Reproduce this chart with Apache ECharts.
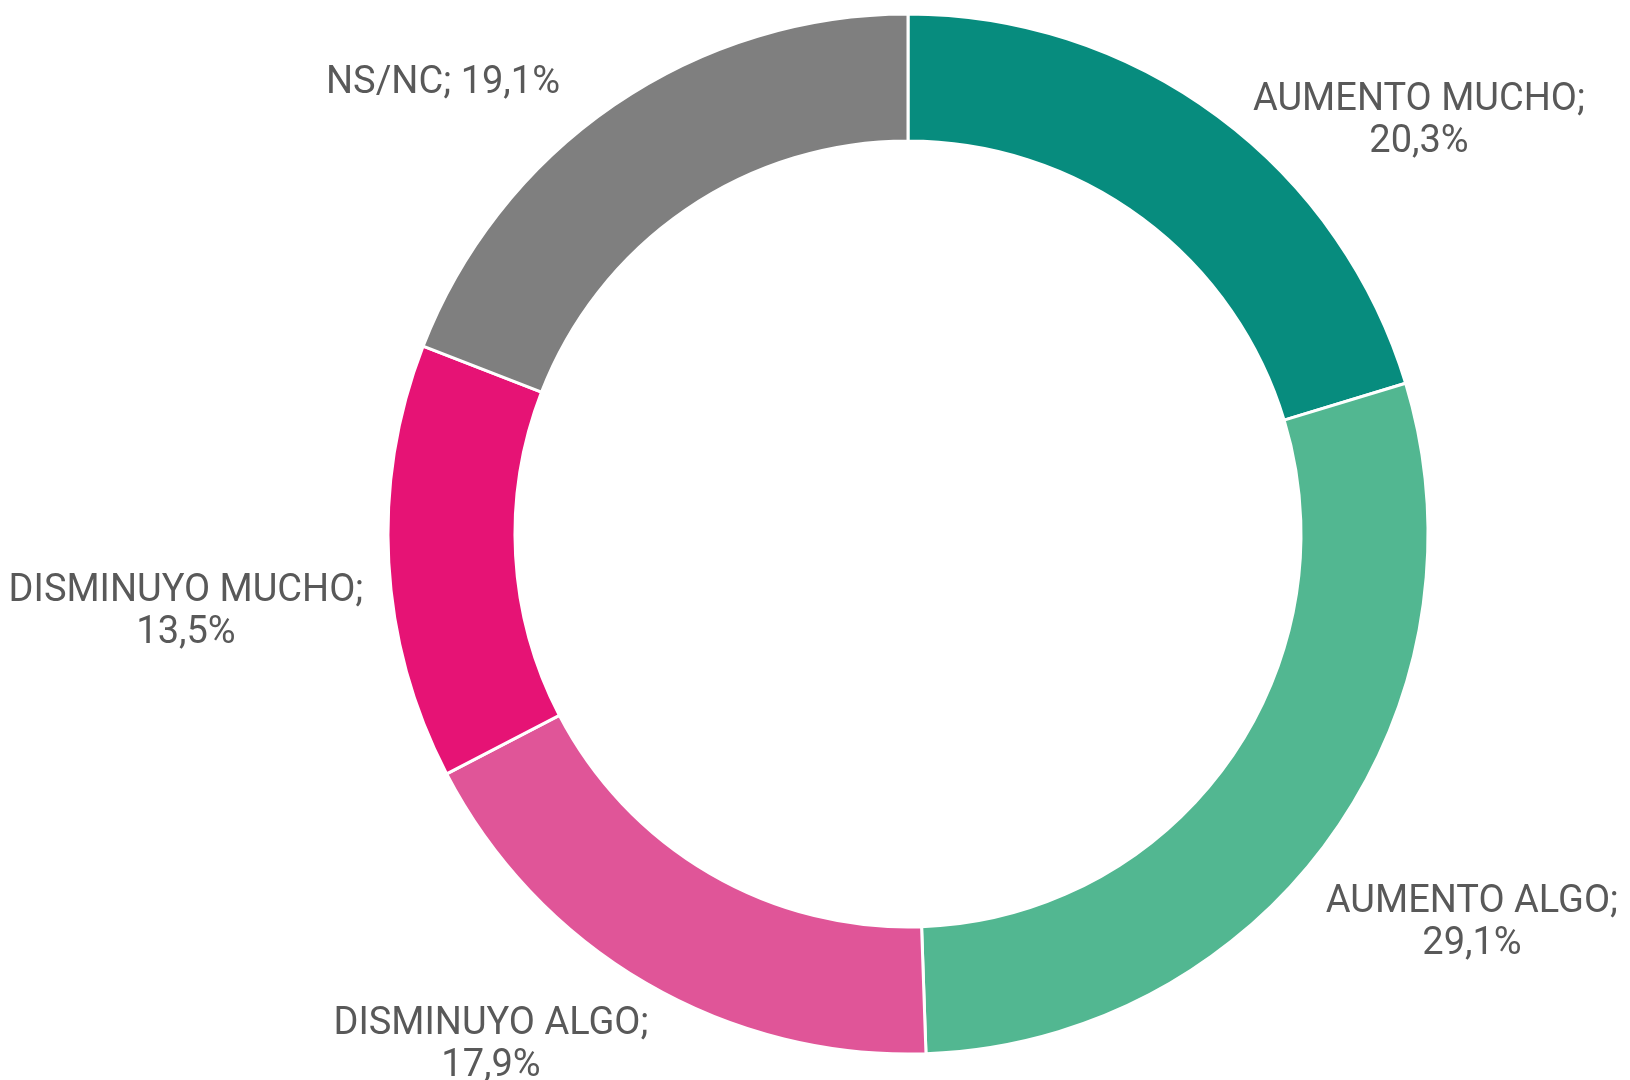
<!DOCTYPE html>
<html lang="es">
<head>
    <meta charset="UTF-8">
    <title>Donut</title>
    <script src="https://cdn.jsdelivr.net/npm/echarts@6/dist/echarts.min.js"></script>
    <style>
        html, body { margin: 0; padding: 0; background: #fff; }
        #main { width: 1630px; height: 1080px; }
    </style>
</head>
<body>
<div id="main"></div>
<script>
    // datos
    var categories = ['AUMENTO MUCHO', 'AUMENTO ALGO', 'DISMINUYO ALGO', 'DISMINUYO MUCHO', 'NS/NC'];
    var values = [20.3, 29.1, 17.9, 13.5, 19.1];
    var colors = ['#078c7e', '#52b791', '#e05598', '#e61375', '#7f7f7f'];

    // separador entre nombre y valor en cada etiqueta
    var labelSep = ['\n', '\n', '\n', '\n', ' '];
    // posicion del centro de cada etiqueta (px)
    var labelPos = [[1419, 121], [1472, 923], [491, 1045], [186, 612], [443, 83]];

    var myChart = echarts.init(document.getElementById('main'));

    var option = {
        animation: false,
        series: [{
            type: 'pie',
            center: [908, 534],
            radius: [393, 520],
            startAngle: 90,
            clockwise: true,
            itemStyle: {
                borderColor: '#ffffff',
                borderWidth: 3
            },
            label: {
                show: true,
                position: 'outside',
                color: '#595959',
                fontFamily: 'Roboto',
                fontSize: 38,
                lineHeight: 42,
                align: 'center',
                width: 420,
                overflow: 'none',
                formatter: function (p) {
                    return p.name + ';' + labelSep[p.dataIndex] + p.value.toFixed(1).replace('.', ',') + '%';
                }
            },
            labelLine: { show: false },
            labelLayout: function (p) {
                var pos = labelPos[p.dataIndex];
                return { x: pos[0], y: pos[1], align: 'center', verticalAlign: 'middle' };
            },
            emphasis: { disabled: true },
            data: categories.map(function (c, i) {
                return { name: c, value: values[i], itemStyle: { color: colors[i] } };
            })
        }]
    };

    myChart.setOption(option);
</script>
</body>
</html>
